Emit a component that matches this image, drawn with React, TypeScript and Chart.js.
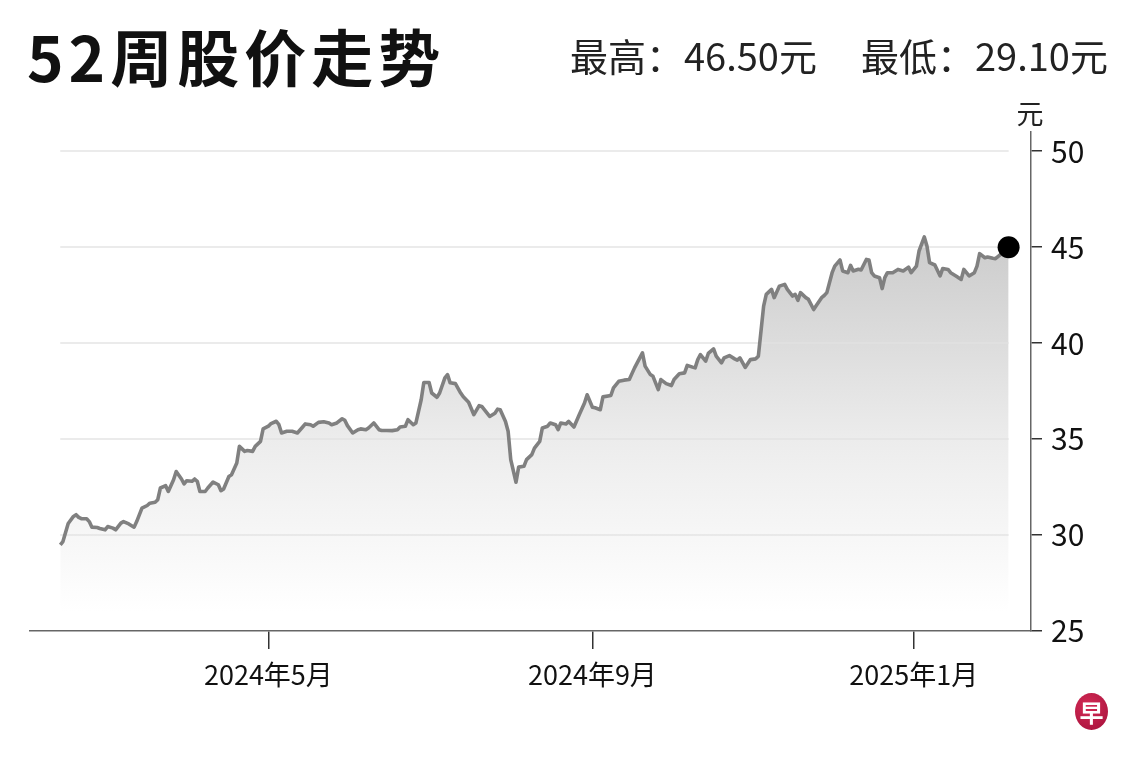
import React, { useEffect, useRef } from 'react';
import { Chart, registerables } from 'chart.js';

Chart.register(...registerables);

const TITLE = '52周股价走势';
const HIGH_LABEL = '最高：';
const HIGH_VALUE = '46.50元';
const LOW_LABEL = '最低：';
const LOW_VALUE = '29.10元';
const UNIT = '元';
const LOGO = '早';

const DATES = [
  '2024-02-12','2024-02-13','2024-02-15','2024-02-17','2024-02-18','2024-02-19','2024-02-20','2024-02-22','2024-02-23','2024-02-24',
  '2024-02-26','2024-02-27','2024-02-29','2024-03-01','2024-03-03','2024-03-04','2024-03-06','2024-03-07','2024-03-09','2024-03-11',
  '2024-03-12','2024-03-14','2024-03-16','2024-03-17','2024-03-19','2024-03-20','2024-03-21','2024-03-23','2024-03-24','2024-03-26',
  '2024-03-27','2024-03-29','2024-03-30','2024-03-31','2024-04-02','2024-04-03','2024-04-04','2024-04-05','2024-04-07','2024-04-08',
  '2024-04-10','2024-04-12','2024-04-13','2024-04-14','2024-04-16','2024-04-17','2024-04-19','2024-04-20','2024-04-22','2024-04-23',
  '2024-04-25','2024-04-26','2024-04-28','2024-04-29','2024-05-01','2024-05-02','2024-05-04','2024-05-05','2024-05-06','2024-05-08',
  '2024-05-10','2024-05-12','2024-05-14','2024-05-15','2024-05-17','2024-05-18','2024-05-20','2024-05-22','2024-05-24','2024-05-25',
  '2024-05-27','2024-05-29','2024-05-30','2024-05-31','2024-06-02','2024-06-04','2024-06-05','2024-06-07','2024-06-08','2024-06-10',
  '2024-06-12','2024-06-13','2024-06-15','2024-06-17','2024-06-19','2024-06-20','2024-06-22','2024-06-23','2024-06-25','2024-06-26',
  '2024-06-28','2024-06-29','2024-07-01','2024-07-02','2024-07-04','2024-07-05','2024-07-07','2024-07-08','2024-07-09','2024-07-11',
  '2024-07-13','2024-07-14','2024-07-16','2024-07-18','2024-07-20','2024-07-21','2024-07-24','2024-07-26','2024-07-27','2024-07-28',
  '2024-07-30','2024-07-31','2024-08-01','2024-08-03','2024-08-04','2024-08-06','2024-08-07','2024-08-09','2024-08-10','2024-08-12',
  '2024-08-13','2024-08-15','2024-08-16','2024-08-18','2024-08-19','2024-08-20','2024-08-22','2024-08-23','2024-08-25','2024-08-27',
  '2024-08-29','2024-08-30','2024-09-01','2024-09-02','2024-09-04','2024-09-05','2024-09-08','2024-09-09','2024-09-11','2024-09-13',
  '2024-09-15','2024-09-17','2024-09-20','2024-09-21','2024-09-23','2024-09-24','2024-09-26','2024-09-27','2024-09-29','2024-10-01',
  '2024-10-02','2024-10-04','2024-10-06','2024-10-07','2024-10-09','2024-10-10','2024-10-11','2024-10-12','2024-10-14','2024-10-15',
  '2024-10-17','2024-10-18','2024-10-20','2024-10-21','2024-10-23','2024-10-25','2024-10-26','2024-10-27','2024-10-29','2024-10-31',
  '2024-11-02','2024-11-03','2024-11-05','2024-11-06','2024-11-08','2024-11-09','2024-11-11','2024-11-13','2024-11-14','2024-11-16',
  '2024-11-17','2024-11-18','2024-11-19','2024-11-21','2024-11-22','2024-11-24','2024-11-25','2024-11-27','2024-11-28','2024-11-29',
  '2024-12-01','2024-12-02','2024-12-04','2024-12-05','2024-12-07','2024-12-08','2024-12-09','2024-12-11','2024-12-12','2024-12-14',
  '2024-12-15','2024-12-16','2024-12-17','2024-12-19','2024-12-20','2024-12-21','2024-12-22','2024-12-24','2024-12-26','2024-12-28',
  '2024-12-30','2024-12-31','2025-01-02','2025-01-03','2025-01-05','2025-01-06','2025-01-07','2025-01-09','2025-01-11','2025-01-12',
  '2025-01-14','2025-01-15','2025-01-17','2025-01-19','2025-01-20','2025-01-22','2025-01-24','2025-01-25','2025-01-26','2025-01-28',
  '2025-01-29','2025-01-31','2025-02-01','2025-02-03','2025-02-06',
];

const PRICES = [
  29.49,29.66,30.6,30.97,31.06,30.92,30.85,30.85,30.7,30.41,
  30.39,30.34,30.27,30.44,30.36,30.27,30.62,30.7,30.58,30.41,
  30.7,31.4,31.54,31.66,31.71,31.84,32.45,32.57,32.27,32.88,
  33.31,32.92,32.66,32.83,32.8,32.92,32.8,32.27,32.27,32.45,
  32.76,32.62,32.31,32.4,33.05,33.14,33.75,34.62,34.36,34.4,
  34.36,34.62,34.88,35.53,35.67,35.81,35.93,35.75,35.32,35.41,
  35.41,35.32,35.63,35.79,35.75,35.67,35.87,35.9,35.84,35.75,
  35.84,36.06,35.98,35.7,35.32,35.49,35.53,35.49,35.58,35.84,
  35.49,35.45,35.45,35.44,35.49,35.63,35.67,36.01,35.75,35.84,
  37.05,37.95,37.95,37.4,37.18,37.4,38.19,38.36,37.93,37.89,
  37.4,37.2,36.92,36.27,36.74,36.7,36.18,36.35,36.56,36.53,
  35.92,35.41,33.93,32.75,33.54,33.58,33.93,34.19,34.53,34.88,
  35.58,35.67,35.84,35.75,35.49,35.84,35.79,35.92,35.63,36.27,
  36.88,37.31,36.66,36.63,36.53,37.2,37.27,37.67,38.01,38.07,
  38.1,38.71,39.49,38.8,38.36,38.27,37.58,38.1,37.89,37.79,
  38.1,38.4,38.45,38.84,38.75,38.71,39.14,39.4,39.06,39.46,
  39.7,39.32,38.97,39.23,39.35,39.18,39.11,39.23,38.73,39.14,
  39.18,39.32,41.93,42.54,42.8,42.37,42.97,43.06,42.8,42.45,
  42.54,42.23,42.63,42.37,42.28,41.75,41.96,42.37,42.48,42.63,
  43.67,44.01,44.33,43.76,43.67,44.05,43.76,43.85,43.81,44.36,
  44.33,43.67,43.5,43.41,42.84,43.41,43.67,43.67,43.84,43.76,
  43.96,43.67,44.01,44.8,45.53,45.06,44.19,44.07,43.5,43.89,
  43.84,43.67,43.5,43.32,43.84,43.5,43.67,44.01,44.66,44.45,
  44.49,44.42,44.4,44.63,45.0,
];

const X_TICK_DATES = ['2024-05-01', '2024-09-01', '2025-01-01'];
const X_TICK_LABELS = ['2024年5月', '2024年9月', '2025年1月'];
const X_RANGE_DATES = ['2024-01-31', '2025-02-15'];
const Y_TICKS = [25, 30, 35, 40, 45, 50];
const GRID_VALUES = [30, 35, 40, 45, 50];
const Y_MIN = 25;
const Y_MAX = 51;

const ORIGIN = Date.UTC(2024, 1, 1);
function toDay(s: string): number {
  const [y, m, d] = s.split('-').map(Number);
  return (Date.UTC(y, m - 1, d) - ORIGIN) / 86400000;
}

const FONT = '"Noto Sans CJK SC", "Noto Sans", sans-serif';

export default function App() {
  const canvasRef = useRef<HTMLCanvasElement | null>(null);

  useEffect(() => {
    const canvas = canvasRef.current;
    if (!canvas) return;
    const points = DATES.map((d, i) => ({ x: toDay(d), y: PRICES[i] }));
    const lastIndex = points.length - 1;
    const xTicks = X_TICK_DATES.map(toDay);

    const partialGrid = {
      id: 'partialGrid',
      afterDatasetDraw(chart: any, args: any) {
        if (args.index !== 1) return;
        const { ctx, scales } = chart;
        const x0 = scales.x.getPixelForValue(points[0].x);
        const x1 = scales.x.getPixelForValue(points[lastIndex].x);
        ctx.save();
        ctx.strokeStyle = 'rgba(225,225,225,0.9)';
        ctx.lineWidth = 1.5;
        GRID_VALUES.forEach((v) => {
          const py = Math.round(scales.y.getPixelForValue(v));
          ctx.beginPath();
          ctx.moveTo(x0, py);
          ctx.lineTo(x1, py);
          ctx.stroke();
        });
        ctx.restore();
      },
    };

    const chart = new Chart(canvas, {
      type: 'line',
      data: {
        datasets: [
          {
            data: points,
            borderColor: 'rgb(128,128,128)',
            borderWidth: 3.6,
            borderJoinStyle: 'round',
            fill: false,
            tension: 0,
            order: 1,
            pointRadius: (c: any) => (c.dataIndex === lastIndex ? 11 : 0),
            pointHoverRadius: (c: any) => (c.dataIndex === lastIndex ? 11 : 0),
            pointBackgroundColor: '#000',
            pointBorderColor: '#000',
            pointBorderWidth: 0,
          },
          {
            data: points,
            borderWidth: 0,
            borderColor: 'rgba(0,0,0,0)',
            pointRadius: 0,
            tension: 0,
            order: 2,
            fill: 'start',
            backgroundColor: (c: any) => {
              const ch = c.chart;
              if (!ch.chartArea) return 'rgba(200,200,200,0.5)';
              const y = ch.scales.y;
              const g = ch.ctx.createLinearGradient(0, y.getPixelForValue(46), 0, y.getPixelForValue(26));
              g.addColorStop(0, 'rgb(202,202,202)');
              g.addColorStop(0.55, 'rgb(236,236,236)');
              g.addColorStop(1, 'rgb(255,255,255)');
              return g;
            },
          },
        ],
      },
      options: {
        animation: false,
        responsive: true,
        maintainAspectRatio: false,
        layout: { padding: { left: 30, top: 132, right: 0, bottom: 0 } },
        plugins: {
          legend: { display: false },
          tooltip: { enabled: false },
          title: { display: false },
        },
        events: [],
        scales: {
          x: {
            type: 'linear',
            min: toDay(X_RANGE_DATES[0]) + 0.5,
            max: toDay(X_RANGE_DATES[1]) - 0.5,
            afterBuildTicks: (s: any) => {
              s.ticks = xTicks.map((v) => ({ value: v }));
            },
            afterFit: (s: any) => {
              s.height = 129;
            },
            ticks: {
              autoSkip: false,
              maxRotation: 0,
              padding: 10,
              color: '#111',
              font: { family: FONT, size: 27 },
              callback: (_v: any, i: number) => X_TICK_LABELS[i],
            },
            grid: {
              z: 1,
              drawOnChartArea: false,
              drawTicks: true,
              tickLength: 18,
              color: '#333',
              lineWidth: 1.5,
            },
            border: { z: 1, display: true, color: '#666', width: 1.5 },
          },
          y: {
            position: 'right',
            min: Y_MIN,
            max: Y_MAX,
            afterBuildTicks: (s: any) => {
              s.ticks = Y_TICKS.map((v) => ({ value: v }));
            },
            afterFit: (s: any) => {
              s.width = 109;
            },
            ticks: {
              padding: 9,
              color: '#111',
              font: { family: FONT, size: 30 },
            },
            grid: {
              z: 1,
              drawOnChartArea: false,
              drawTicks: true,
              tickLength: 11,
              color: '#333',
              lineWidth: 1.5,
            },
            border: { z: 1, display: true, color: '#666', width: 1.5 },
          },
        },
      },
      plugins: [partialGrid],
    } as any);

    return () => chart.destroy();
  }, []);

  return (
    <div style={{ position: 'absolute', left: 0, top: 0, width: 1140, height: 760, background: '#fff', overflow: 'hidden', fontFamily: FONT }}>
      <canvas ref={canvasRef} style={{ position: 'absolute', left: 0, top: 0, width: 1140, height: 760 }} />
      <div style={{ position: 'absolute', left: 27, top: 24, fontSize: 62, lineHeight: '62px', fontWeight: 700, letterSpacing: 5, color: '#111', whiteSpace: 'nowrap' }}>
        {TITLE}
      </div>
      <div style={{ position: 'absolute', left: 570, top: 36, fontSize: 38, lineHeight: '38px', color: '#222', whiteSpace: 'nowrap' }}>
        <span>{HIGH_LABEL}{HIGH_VALUE}</span>
        <span style={{ marginLeft: 44 }}>{LOW_LABEL}{LOW_VALUE}</span>
      </div>
      <div style={{ position: 'absolute', left: 1010, top: 99, width: 40, textAlign: 'center', fontSize: 27, lineHeight: '28px', color: '#222' }}>
        {UNIT}
      </div>
      <div style={{ position: 'absolute', left: 1075, top: 693, width: 33, height: 37, borderRadius: '50%', background: 'radial-gradient(circle at 40% 35%, #d42a55, #a3103a)', color: '#fff', fontSize: 24, fontWeight: 700, lineHeight: '37px', textAlign: 'center' }}>
        {LOGO}
      </div>
    </div>
  );
}
